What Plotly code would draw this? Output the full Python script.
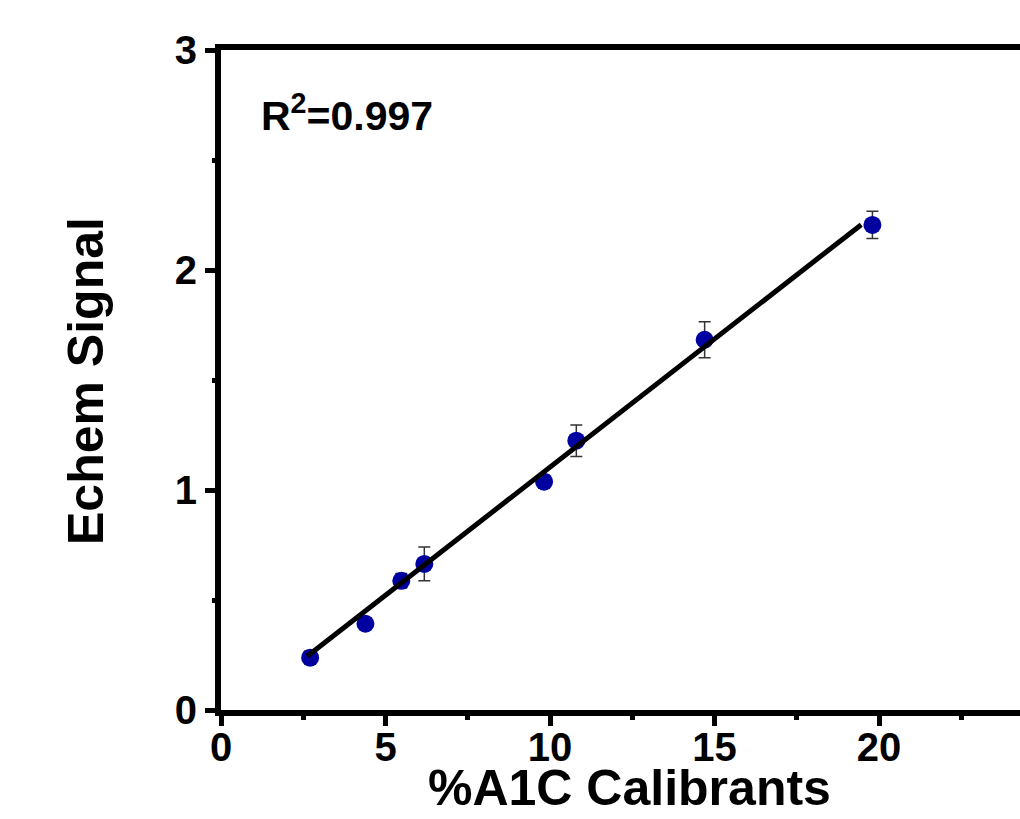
import plotly.graph_objects as go

# Data
a1c = [2.71, 4.39, 5.48, 6.18, 9.82, 10.80, 14.70, 19.80]
signal = [0.238, 0.392, 0.587, 0.664, 1.038, 1.224, 1.683, 2.205]
signal_err = [0.03, 0.027, 0.033, 0.077, 0.03, 0.072, 0.082, 0.062]

fit_slope = 0.1165
fit_intercept = -0.061
fit_x = [2.62, 19.46]
fit_y = [fit_slope * v + fit_intercept for v in fit_x]

x_ticks = [0, 5, 10, 15, 20]
y_ticks = [0, 1, 2, 3]
r2_text = "R<sup>2</sup>=0.997"

W, H = 1020, 819
L, R, T, B = 221, 0, 50, 109

FONT = "Liberation Sans, Arial, sans-serif"

fig = go.Figure()
fig.add_trace(go.Scatter(
    x=a1c, y=signal, mode="markers",
    marker=dict(color="#0000A0", size=18),
    error_y=dict(type="data", array=signal_err, color="#333333", thickness=1.5, width=6),
    showlegend=False, cliponaxis=False,
))
fig.add_trace(go.Scatter(
    x=fit_x, y=fit_y, mode="lines",
    line=dict(color="black", width=5),
    showlegend=False,
))

axis_common = dict(
    showline=True, linecolor="black", linewidth=6,
    ticks="outside", tickcolor="black", tickwidth=5, ticklen=10,
    showgrid=False, zeroline=False,
    tickfont=dict(family=FONT, size=40, color="black", weight="bold"),
)

fig.update_xaxes(
    range=[0, (W - L) / 32.9], tickvals=x_ticks, mirror=True,
    ticklabelstandoff=-13,
    minor=dict(ticks="outside", dtick=2.5, tick0=0, ticklen=4, tickwidth=5, tickcolor="black"),
    **axis_common,
)
fig.update_yaxes(
    range=[0, 3], tickvals=y_ticks, mirror=False,
    minor=dict(ticks="outside", dtick=0.5, tick0=0, ticklen=3, tickwidth=5, tickcolor="black"),
    **axis_common,
)

pw = W - L - R
ph = H - T - B

def px_x(p):
    return (p - L) / pw

def px_y(p):
    return (H - B - p) / ph

fig.add_annotation(
    text="Echem Signal", xref="paper", yref="paper",
    x=px_x(86), y=px_y(381), xanchor="center", yanchor="middle",
    textangle=-90, showarrow=False,
    font=dict(family=FONT, size=50, color="black", weight="bold"),
)
fig.add_annotation(
    text="%A1C Calibrants", xref="paper", yref="paper",
    x=px_x(629), y=px_y(788), xanchor="center", yanchor="middle",
    showarrow=False,
    font=dict(family=FONT, size=50, color="black", weight="bold"),
)
fig.add_annotation(
    text=r2_text, xref="paper", yref="paper",
    x=px_x(259), y=px_y(113), xanchor="left", yanchor="middle",
    showarrow=False,
    font=dict(family=FONT, size=41, color="black", weight="bold"),
)

fig.update_layout(
    width=W, height=H,
    margin=dict(l=L, r=R, t=T, b=B),
    paper_bgcolor="white", plot_bgcolor="white",
)

fig.write_html("out.html")
